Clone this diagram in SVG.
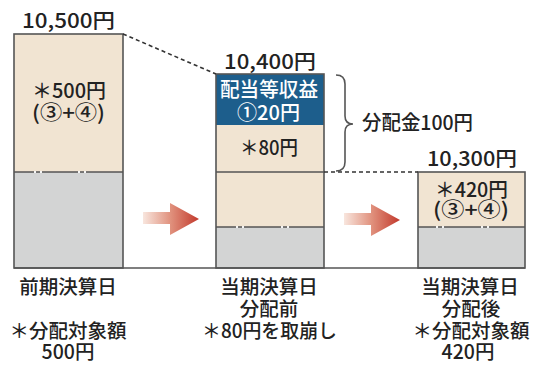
<svg xmlns="http://www.w3.org/2000/svg" width="533" height="365" viewBox="0 0 533 365">
<defs>
<style>
.t{font-family:"Noto Sans CJK JP","Liberation Sans",sans-serif;font-size:20px;font-weight:500;fill:#222;text-anchor:middle}
.w{fill:#fff}
.lb{font-size:19.5px}
.beige{fill:#f1e4d2}
.gray{fill:#d3d4d4}
.blue{fill:#1d5e8c}
.edge{fill:none;stroke:#555;stroke-width:1.6}
.gap{stroke:#f4f4f4;stroke-width:2;stroke-dasharray:2 4}
.dash{fill:none;stroke:#333;stroke-width:1.6;stroke-dasharray:4 3}
</style>
<linearGradient id="ag" x1="0" y1="0" x2="1" y2="0">
<stop offset="0" stop-color="#f8e6de"/>
<stop offset="0.5" stop-color="#e0907c"/>
<stop offset="1" stop-color="#c2392c"/>
</linearGradient>
<polygon id="arrow" points="0,9 27,9 27,0 56,16 27,32 27,21 0,21" fill="url(#ag)"/>
</defs>
<rect width="533" height="365" fill="#fff"/>

<g id="bar1">
<rect class="beige" x="14" y="34" width="109" height="138"/>
<rect class="gray" x="14" y="172" width="109" height="96"/>
<line class="edge" x1="14" y1="172" x2="123" y2="172"/>
<line class="gap" x1="34" y1="172" x2="42" y2="172"/>
<line class="gap" x1="78" y1="172" x2="86" y2="172"/>
<rect class="edge" x="14" y="34" width="109" height="234"/>
<text class="t" x="68.5" y="28" textLength="93" lengthAdjust="spacingAndGlyphs">10,500円</text>
<text class="t"><tspan x="69" y="98" textLength="74" lengthAdjust="spacingAndGlyphs">＊500円</tspan><tspan x="68.5" y="120" textLength="73" lengthAdjust="spacingAndGlyphs">(③+④)</tspan></text>
</g>

<g id="bar2">
<rect class="blue" x="216" y="74" width="108" height="51"/>
<rect class="beige" x="216" y="125" width="108" height="102"/>
<rect class="gray" x="216" y="227" width="108" height="41"/>
<line class="edge" x1="216" y1="172" x2="324" y2="172"/>
<line class="edge" x1="216" y1="227" x2="324" y2="227"/>
<line class="gap" x1="236" y1="227" x2="244" y2="227"/>
<line class="gap" x1="281" y1="227" x2="289" y2="227"/>
<rect class="edge" x="216" y="74" width="108" height="194"/>
<text class="t" x="270" y="69" textLength="92" lengthAdjust="spacingAndGlyphs">10,400円</text>
<text class="t w"><tspan x="269" y="97" textLength="98" lengthAdjust="spacingAndGlyphs">配当等収益</tspan><tspan x="268.5" y="120" textLength="63" lengthAdjust="spacingAndGlyphs">①20円</tspan></text>
<text class="t" x="269" y="155" textLength="58" lengthAdjust="spacingAndGlyphs">＊80円</text>
</g>

<g id="bar3">
<rect class="beige" x="418" y="172" width="107" height="55"/>
<rect class="gray" x="418" y="227" width="107" height="41"/>
<line class="edge" x1="418" y1="227" x2="525" y2="227"/>
<line class="gap" x1="436" y1="227" x2="444" y2="227"/>
<line class="gap" x1="481" y1="227" x2="489" y2="227"/>
<rect class="edge" x="418" y="172" width="107" height="96"/>
<text class="t" x="472" y="166" textLength="90" lengthAdjust="spacingAndGlyphs">10,300円</text>
<text class="t"><tspan x="471.5" y="197" textLength="73" lengthAdjust="spacingAndGlyphs">＊420円</tspan><tspan x="471" y="217" textLength="76" lengthAdjust="spacingAndGlyphs">(③+④)</tspan></text>
</g>

<g id="brace">
<path class="edge" d="M336 75 Q345 75 345 84 L345 116 Q345 124 353 124 Q345 124 345 132 L345 162 Q345 171 336 171" stroke="#333"/>
<text class="t" x="362" y="130" style="text-anchor:start" textLength="111" lengthAdjust="spacingAndGlyphs">分配金100円</text>
</g>

<g id="connectors">
<line x1="14" y1="268" x2="525" y2="268" stroke="#555" stroke-width="1.6"/>
<line class="dash" x1="123" y1="34" x2="216" y2="74"/>
<line class="dash" x1="324" y1="172" x2="418" y2="172"/>
<use href="#arrow" x="143" y="203"/>
<use href="#arrow" x="344" y="204"/>
</g>

<g id="labels">
<text class="t lb"><tspan x="68" y="294">前期決算日</tspan><tspan x="68" y="338">＊分配対象額</tspan><tspan x="68" y="359">500円</tspan></text>
<text class="t lb"><tspan x="269" y="294">当期決算日</tspan><tspan x="269" y="316">分配前</tspan><tspan x="269.5" y="338" textLength="135" lengthAdjust="spacingAndGlyphs">＊80円を取崩し</tspan></text>
<text class="t lb"><tspan x="470" y="294">当期決算日</tspan><tspan x="471" y="316">分配後</tspan><tspan x="471" y="338">＊分配対象額</tspan><tspan x="468" y="359">420円</tspan></text>
</g>
</svg>
